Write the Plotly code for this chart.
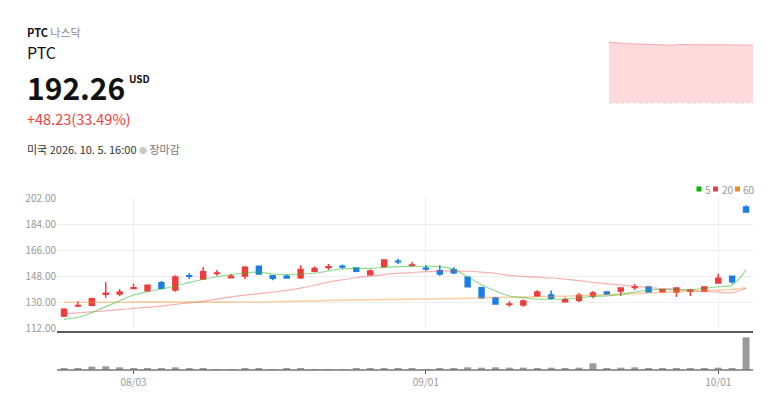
import plotly.graph_objects as go

W, H = 780, 404

dates = ["07/27", "07/28", "07/29", "07/30", "07/31",
         "08/03", "08/04", "08/05", "08/06", "08/07",
         "08/10", "08/11", "08/12", "08/13", "08/14",
         "08/17", "08/18", "08/19", "08/20", "08/21",
         "08/24", "08/25", "08/26", "08/27", "08/28",
         "08/31", "09/01", "09/02", "09/03", "09/04",
         "09/08", "09/09", "09/10", "09/11",
         "09/14", "09/15", "09/16", "09/17", "09/18",
         "09/21", "09/22", "09/23", "09/24", "09/25",
         "09/28", "09/29", "09/30", "10/01", "10/02", "10/05"]

opens = [120.3, 127.2, 127.7, 135.4, 135.5, 139.4, 137.8, 143.4, 138.3, 148.2,
         145.9, 149.7, 146.8, 148.0, 154.7, 148.2, 147.8, 146.8, 151.3, 153.8,
         154.8, 153.5, 148.9, 154.5, 158.2, 155.2, 153.3, 151.7, 152.4, 147.1,
         139.9, 133.0, 128.2, 127.9, 134.2, 134.8, 130.2, 131.2, 134.2, 136.9,
         137.6, 140.0, 140.4, 137.1, 136.9, 137.4, 137.6, 143.2, 147.8, 195.8]
highs = [125.6, 130.5, 133.0, 143.6, 139.0, 142.7, 142.0, 144.5, 148.5, 149.9,
         154.2, 152.2, 149.3, 154.9, 155.2, 148.6, 149.1, 155.4, 154.6, 156.3,
         155.9, 153.6, 152.5, 159.1, 159.9, 157.9, 155.4, 155.4, 154.0, 147.7,
         140.5, 133.7, 130.6, 131.8, 138.1, 137.9, 133.2, 136.0, 137.6, 137.1,
         140.2, 142.5, 140.9, 138.9, 140.2, 139.2, 140.9, 149.6, 148.0, 197.0]
lows = [119.6, 126.5, 127.0, 133.0, 133.9, 139.2, 137.6, 138.8, 137.1, 145.9,
        145.5, 148.2, 146.6, 145.9, 149.2, 145.0, 146.2, 145.9, 150.6, 152.2,
        152.8, 150.6, 148.5, 153.6, 156.1, 155.0, 151.7, 148.2, 149.3, 140.0,
        132.3, 128.3, 126.7, 126.7, 133.6, 131.8, 130.0, 129.9, 132.6, 134.8,
        134.2, 138.3, 136.5, 136.5, 133.5, 134.2, 136.9, 143.2, 142.7, 191.8]
closes = [124.9, 127.6, 132.3, 136.0, 136.9, 139.9, 141.6, 139.5, 147.3, 147.8,
          151.0, 150.1, 147.9, 154.0, 149.4, 146.4, 146.6, 152.5, 153.2, 154.4,
          154.2, 151.3, 151.5, 159.1, 157.8, 155.6, 152.9, 149.4, 150.3, 140.6,
          133.0, 128.6, 128.6, 130.7, 136.9, 132.6, 131.6, 134.6, 136.2, 135.5,
          139.7, 140.4, 136.9, 138.5, 139.7, 138.3, 140.4, 146.4, 144.03, 192.26]

ma5 = [118.0, 119.4, 122.6, 126.8, 130.9, 134.8, 137.1, 139.0, 141.1, 143.4,
       145.7, 147.5, 148.9, 150.3, 150.6, 149.4, 148.9, 149.4, 149.9, 151.5,
       152.8, 153.3, 153.3, 154.0, 154.5, 154.7, 154.7, 154.5, 152.6, 147.5,
       142.0, 137.6, 134.2, 133.0, 131.9, 131.9, 132.1, 132.8, 133.9, 134.2,
       135.3, 136.9, 138.1, 138.8, 138.8, 138.5, 139.5, 140.6, 141.8, 152.2]
ma20 = [121.9, 122.5, 123.2, 123.9, 124.7, 125.6, 126.4, 127.2, 128.4, 129.4,
        130.5, 132.0, 133.5, 134.7, 135.8, 136.9, 138.0, 139.6, 141.6, 143.8,
        145.4, 146.8, 147.9, 149.0, 149.8, 150.4, 151.0, 151.3, 151.6, 151.3,
        150.7, 149.9, 148.4, 147.7, 147.2, 146.6, 145.8, 144.8, 143.6, 142.6,
        141.8, 141.0, 140.0, 139.3, 138.6, 137.8, 137.2, 136.8, 136.4, 139.5]
ma60 = [129.8, 129.8, 129.8, 129.8, 129.8, 129.9, 129.9, 129.9, 129.9, 129.9,
        129.9, 129.9, 129.9, 130.0, 130.0, 130.2, 130.4, 130.6, 130.8, 131.0,
        131.2, 131.4, 131.6, 131.7, 131.8, 132.0, 132.1, 132.2, 132.4, 132.6,
        132.9, 133.1, 133.3, 133.4, 133.6, 133.8, 134.0, 134.3, 134.7, 135.0,
        135.4, 135.8, 136.2, 136.6, 137.0, 137.4, 137.8, 138.2, 138.8, 139.8]

volumes = [4, 4, 10, 11, 8, 5, 4, 4, 8, 5,
           4, 3, 3, 5, 5, 3, 5, 4, 3, 3,
           3, 5, 5, 4, 4, 4, 3, 4, 4, 8,
           7, 8, 7, 7, 4, 7, 4, 7, 20, 4,
           7, 8, 5, 4, 4, 5, 4, 7, 4, 98]

tick_vals = ["08/03", "09/01", "10/01"]
price_ticks = [112, 130, 148, 166, 184, 202]

mini_time = [0, 29, 65, 110, 155, 169, 191, 228, 264, 300, 336, 372, 390]
mini_price = [197.1, 196.0, 194.5, 194.0, 192.9, 192.4, 193.5, 193.5, 192.9,
              192.9, 192.4, 192.9, 192.26]

UP = "#ef3b3b"
DOWN = "#1a7ee6"
FONT = "Noto Sans CJK KR, Noto Sans, sans-serif"


def px_x(v):
    return v / W


def px_y(v):
    return 1 - v / H


fig = go.Figure()

fig.add_trace(go.Candlestick(
    x=dates, open=opens, high=highs, low=lows, close=closes,
    increasing=dict(line=dict(color=UP, width=1.5), fillcolor=UP),
    decreasing=dict(line=dict(color=DOWN, width=1.5), fillcolor=DOWN),
    whiskerwidth=0, xaxis="x", yaxis="y", showlegend=False,
))
fig.add_trace(go.Scatter(x=dates, y=ma60, mode="lines", line=dict(color="rgba(245,150,60,0.45)", width=1.6, shape="spline"), xaxis="x", yaxis="y", showlegend=False))
fig.add_trace(go.Scatter(x=dates, y=ma20, mode="lines", line=dict(color="rgba(240,80,80,0.45)", width=1.2, shape="spline"), xaxis="x", yaxis="y", showlegend=False))
fig.add_trace(go.Scatter(x=dates, y=ma5, mode="lines", line=dict(color="rgba(40,190,40,0.55)", width=1.1, shape="spline"), xaxis="x", yaxis="y", showlegend=False))

fig.add_trace(go.Bar(x=dates, y=volumes, marker=dict(color="#9a9a9a", line=dict(width=0)), width=0.5, xaxis="x2", yaxis="y2", showlegend=False))

fig.add_trace(go.Scatter(x=mini_time, y=mini_price, mode="lines", fill="tozeroy",
                         fillcolor="rgba(255,205,208,0.75)", line=dict(color="rgba(250,160,165,0.9)", width=1),
                         xaxis="x3", yaxis="y3", showlegend=False))

x_dom = [px_x(57), px_x(753)]

shapes = [
    dict(type="line", xref="paper", yref="paper", x0=px_x(57), x1=px_x(753), y0=px_y(332), y1=px_y(332), line=dict(color="#222", width=1.5)),
    dict(type="line", xref="paper", yref="paper", x0=px_x(57), x1=px_x(753), y0=px_y(370), y1=px_y(370), line=dict(color="#777", width=1.5)),
    dict(type="line", xref="paper", yref="paper", x0=px_x(609), x1=px_x(753), y0=px_y(103), y1=px_y(103), line=dict(color="#d8d8d8", width=1, dash="dot")),
]
legend_items = [("5", "#00b400", 696.5, 703), ("20", "#f03c3c", 713, 719.5), ("60", "#f28a1e", 735, 741)]
annotations = []
for label, col, sx, tx in legend_items:
    shapes.append(dict(type="rect", xref="paper", yref="paper", x0=px_x(sx), x1=px_x(sx + 5), y0=px_y(191.5), y1=px_y(186.5), line=dict(width=0), fillcolor=col))
    annotations.append(dict(text=label, x=px_x(tx), y=px_y(189.5), xref="paper", yref="paper", xanchor="left", yanchor="middle", showarrow=False, font=dict(family=FONT, size=10, color="#999")))


def ann(text, x, y, size, color="#111", weight="normal"):
    annotations.append(dict(text=text, x=px_x(x), y=px_y(y), xref="paper", yref="paper", xanchor="left", yanchor="middle",
                            showarrow=False, borderpad=0, font=dict(family=FONT, size=size, color=color, weight=weight)))


ann("<b>PTC</b> <span style='color:#8a8a8a'>나스닥</span>", 26, 32, 11, "#111")
ann("PTC", 26, 52, 16, "#111")
ann("192.26", 26, 87.5, 30, "#111", "bold")
ann("<b>USD</b>", 128, 79, 10, "#111")
ann("+48.23(33.49%)", 26, 118, 14.5, "#f04040")
ann("미국 2026. 10. 5. 16:00 <span style='color:#c8c8c8;font-size:8px'>●</span> <span style='color:#777'>장마감</span>", 26, 149, 11, "#333")

fig.update_layout(
    width=W, height=H, margin=dict(l=0, r=0, t=0, b=0, pad=0, autoexpand=False),
    paper_bgcolor="white", plot_bgcolor="white",
    font=dict(family=FONT, size=10, color="#999"),
    showlegend=False, boxgap=0.5, bargap=0.5,
    shapes=shapes, annotations=annotations,
    xaxis=dict(domain=x_dom, type="category", categoryorder="array", categoryarray=dates,
               range=[-0.5, len(dates) - 0.5], rangeslider=dict(visible=False),
               tickvals=tick_vals, showticklabels=False, showgrid=True, gridcolor="#eeeeee", gridwidth=1,
               zeroline=False, showline=False, anchor="y", automargin=False),
    yaxis=dict(domain=[px_y(328), px_y(198)], range=[112, 202], tickvals=price_ticks, tickformat=".2f",
               showgrid=True, gridcolor="#eeeeee", zeroline=False, showline=False, ticks="",
               tickfont=dict(family=FONT, size=10, color="#999"), anchor="x", automargin=False),
    xaxis2=dict(domain=x_dom, type="category", categoryorder="array", categoryarray=dates,
                range=[-0.5, len(dates) - 0.5], tickvals=tick_vals, ticktext=tick_vals,
                ticks="outside", ticklen=3, tickcolor="#555", tickwidth=1,
                tickfont=dict(family=FONT, size=10, color="#999"),
                showgrid=False, zeroline=False, showline=False, anchor="y2", automargin=False),
    yaxis2=dict(domain=[px_y(370), px_y(332)], range=[0, 114], showticklabels=False, showgrid=False,
                zeroline=False, showline=False, anchor="x2", automargin=False),
    xaxis3=dict(domain=[px_x(609), px_x(753)], range=[0, 390], visible=False, anchor="y3"),
    yaxis3=dict(domain=[px_y(103), px_y(40)], range=[103, 200.65], visible=False, anchor="x3"),
)

fig.write_html("out.html")
